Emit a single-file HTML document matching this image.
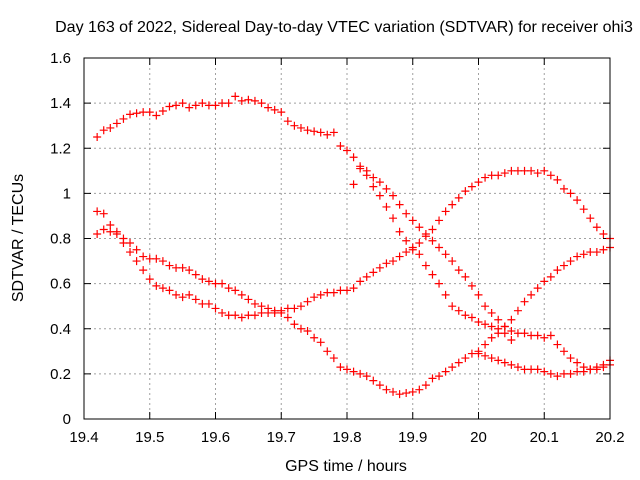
<!DOCTYPE html>
<html><head><meta charset="utf-8"><style>
body{margin:0;background:#fff;}
svg{display:block;font-family:"Liberation Sans",sans-serif;}
</style></head><body>
<svg id="chart" width="640" height="480">
<rect width="640" height="480" fill="#fff"/>
<text x="344" y="32" text-anchor="middle" font-size="16">Day 163 of 2022, Sidereal Day-to-day VTEC variation (SDTVAR) for receiver ohi3</text>
<g id="grid"></g>
<g id="axes"></g>
<g id="marks"></g>
<rect x="84" y="58" width="526" height="361" fill="none" stroke="#000"/>
<text x="346" y="471" text-anchor="middle" font-size="16">GPS time / hours</text>
<text transform="translate(23,238) rotate(-90)" text-anchor="middle" font-size="16">SDTVAR / TECUs</text>
</svg>
<script>
const xTicks=[19.4,19.5,19.6,19.7,19.8,19.9,20,20.1,20.2];
const xTickLabels=["19.4","19.5","19.6","19.7","19.8","19.9","20","20.1","20.2"];
const yTicks=[0,0.2,0.4,0.6,0.8,1,1.2,1.4,1.6];
const yTickLabels=["0","0.2","0.4","0.6","0.8","1","1.2","1.4","1.6"];
const s1Start=19.42;
const s1=[1.25,1.28,1.29,1.31,1.33,1.35,1.355,1.36,1.36,1.345,1.365,1.385,1.39,1.40,1.38,1.39,1.40,1.39,1.39,1.40,1.40,1.43,1.41,1.415,1.41,1.40,1.38,1.37,1.36,1.32,1.30,1.29,1.28,1.275,1.27,1.26,1.27,1.21,1.19,
1.16,1.12,1.10,1.07,1.05,1.02,0.99,0.95,0.91,0.88,0.85,0.82,0.79,0.76,0.73,0.70,0.66,0.63,0.59,0.55,0.50,0.47,0.44,0.41,0.39,0.38,0.38,0.37,0.37,0.36,0.37,0.33,0.30,0.27,0.25,0.23,0.22,0.23,0.24,0.26];
const s2Start=19.42;
const s2=[0.92,0.91,0.86,0.83,0.78,0.74,0.70,0.66,0.62,0.59,0.58,0.57,0.55,0.54,0.55,0.53,0.51,0.51,0.49,0.47,0.46,0.46,0.45,0.46,0.46,0.47,0.47,0.47,0.48,0.49,0.49,0.50,0.52,0.54,0.55,0.56,0.56,0.57,0.57,0.58,0.61,0.63,0.65,0.67,0.69,0.70,0.72,0.74,0.76,0.78,0.81,0.84,0.88,0.92,0.95,0.98,1.01,1.03,1.05,1.07,1.08,1.08,1.09,1.10,1.10,1.10,1.10,1.09,1.10,1.08,1.06,1.02,1.00,0.97,0.93,0.89,0.85,0.82,0.80];
const s3Start=19.42;
const s3=[0.82,0.84,0.83,0.82,0.80,0.78,0.75,0.72,0.71,0.71,0.70,0.68,0.67,0.67,0.66,0.64,0.62,0.61,0.60,0.60,0.58,0.57,0.55,0.53,0.51,0.50,0.49,0.48,0.47,0.45,0.42,0.40,0.39,0.36,0.34,0.30,0.27,0.23,0.22,0.21,0.20,0.19,0.17,0.15,0.13,0.12,0.11,0.115,0.12,0.13,0.15,0.18,0.19,0.21,0.23,0.25,0.27,0.29,0.30,0.33,0.36,0.38,0.41,0.44,0.48,0.52,0.55,0.58,0.61,0.63,0.66,0.68,0.70,0.72,0.73,0.74,0.74,0.75,0.76];
const s4Start=19.81;
const s4=[1.04,1.11,1.08,1.03,0.99,0.94,0.89,0.83,0.79,0.75,0.73,0.68,0.64,0.60,0.55,0.50,0.48,0.46,0.45,0.43,0.42,0.41,0.40,0.38,0.35];
const s5Start=20.00;
const s5=[0.29,0.28,0.27,0.26,0.25,0.24,0.23,0.22,0.22,0.22,0.21,0.20,0.19,0.20,0.20,0.21,0.21,0.22,0.22,0.23,0.24];
const step=0.01;
const X0=84,X1=610,Y0=419,Y1=58;
function xs(v){return X0+(v-19.4)/0.8*(X1-X0);}
function ys(v){return Y0-v/1.6*(Y0-Y1);}
const NS="http://www.w3.org/2000/svg";
function mk(t,a,p){const e=document.createElementNS(NS,t);for(const k in a)e.setAttribute(k,a[k]);p.appendChild(e);return e;}
const grid=document.getElementById('grid'),axes=document.getElementById('axes'),marks=document.getElementById('marks');
xTicks.forEach((v,i)=>{
  const x=xs(v);
  if(i>0&&i<xTicks.length-1){const g=mk('line',{x1:x,x2:x,y1:Y1,y2:Y0,stroke:'#a0a0a0','stroke-dasharray':'2,3'},grid);
  
  }
  const t1=mk('line',{x1:x,x2:x,y1:Y0,y2:Y0-7,stroke:'#000'},axes);
  
  
  const t2=mk('line',{x1:x,x2:x,y1:Y1,y2:Y1+7,stroke:'#000'},axes);
  
  
  const l=mk('text',{x:x,y:442,'text-anchor':'middle','font-size':15},axes);
  l.textContent=xTickLabels[i];
  
  
});
yTicks.forEach((v,i)=>{
  const y=ys(v);
  if(i>0&&i<yTicks.length-1){const g=mk('line',{x1:X0,x2:X1,y1:y,y2:y,stroke:'#a0a0a0','stroke-dasharray':'2,3'},grid);
  
  }
  const t1=mk('line',{x1:X0,x2:X0+7,y1:y,y2:y,stroke:'#000'},axes);
  
  
  const t2=mk('line',{x1:X1,x2:X1-7,y1:y,y2:y,stroke:'#000'},axes);
  
  
  const l=mk('text',{x:71,y:y+5,'text-anchor':'end','font-size':15},axes);
  l.textContent=yTickLabels[i];
  
  
});
function series(start,vals,name){
  vals.forEach((v,i)=>{
    const x=xs(start+i*step),y=ys(v);
    const p=mk('path',{d:`M${x-4},${y}H${x+4}M${x},${y-4}V${y+4}`,stroke:'#f00','stroke-width':1.2,fill:'none'},marks);
    
    
  });
}
series(s1Start,s1,'series-1');
series(s2Start,s2,'series-2');
series(s3Start,s3,'series-3');
series(s4Start,s4,'series-4');
series(s5Start,s5,'series-5');
</script>
</body></html>
